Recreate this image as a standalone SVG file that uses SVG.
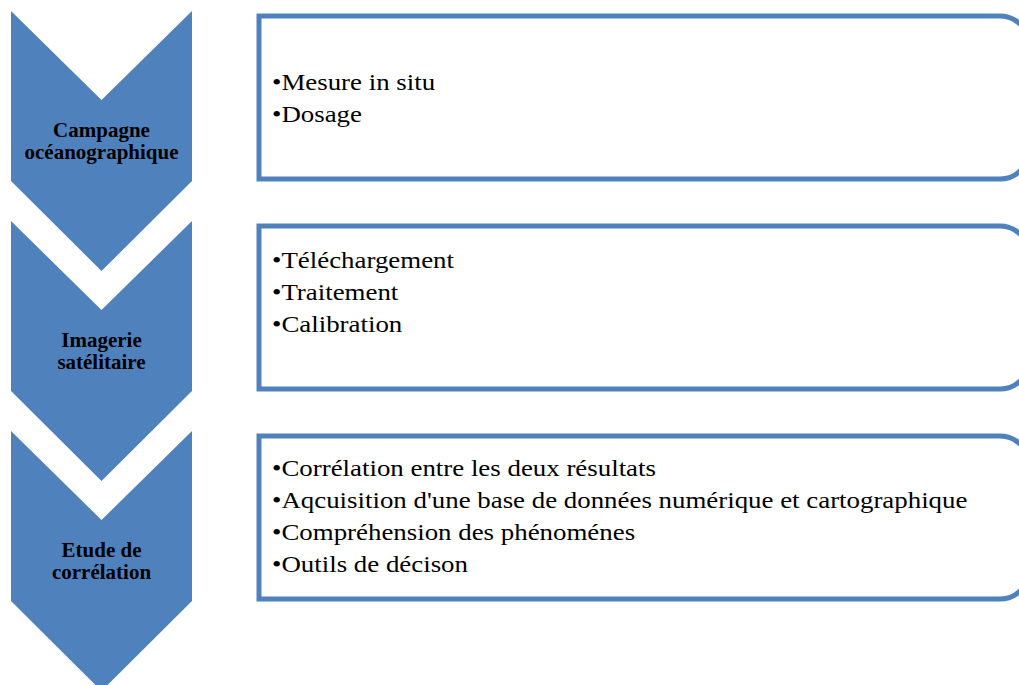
<svg xmlns="http://www.w3.org/2000/svg" width="1019" height="685" viewBox="0 0 1019 685">
<style>
.chev{fill:#4F81BD;stroke:none}
.box{fill:#FFFFFF;stroke:#4F81BD;stroke-width:5}
.lab{font-family:"Liberation Serif","Times New Roman",serif;font-weight:bold;font-size:21px;fill:#000;text-anchor:middle}
.item{font-family:"Liberation Serif","Times New Roman",serif;font-size:24px;fill:#000}
</style>
<rect width="1019" height="685" fill="#FFFFFF"/>
<g id="connectors"></g>
<g id="step1">
<path class="chev" d="M11,11 L101.5,100 L192,11 L192,181 L101.5,271 L11,181 Z"/>
<text class="lab" x="101.5" y="137">Campagne</text>
<text class="lab" x="101.5" y="159">océanographique</text>
</g>
<g id="step2">
<path class="chev" d="M11,221 L101.5,310 L192,221 L192,391 L101.5,481 L11,391 Z"/>
<text class="lab" x="101.5" y="347">Imagerie</text>
<text class="lab" x="101.5" y="369">satélitaire</text>
</g>
<g id="step3">
<path class="chev" d="M11,431 L101.5,520 L192,431 L192,601 L101.5,691 L11,601 Z"/>
<text class="lab" x="101.5" y="557">Etude de</text>
<text class="lab" x="101.5" y="579">corrélation</text>
</g>
<g id="box1">
<path class="box" d="M259,16 H1000 A29,29 0 0 1 1029,45 V150 A29,29 0 0 1 1000,179 H259 Z"/>
<g transform="translate(272,0) scale(1.12,1)">
<text class="item" x="0" y="90">•Mesure in situ</text>
<text class="item" x="0" y="122">•Dosage</text>
</g>
</g>
<g id="box2">
<path class="box" d="M259,226 H1000 A29,29 0 0 1 1029,255 V360 A29,29 0 0 1 1000,389 H259 Z"/>
<g transform="translate(272,0) scale(1.12,1)">
<text class="item" x="0" y="268">•Téléchargement</text>
<text class="item" x="0" y="300">•Traitement</text>
<text class="item" x="0" y="332">•Calibration</text>
</g>
</g>
<g id="box3">
<path class="box" d="M259,436 H1000 A29,29 0 0 1 1029,465 V570 A29,29 0 0 1 1000,599 H259 Z"/>
<g transform="translate(272,0) scale(1.12,1)">
<text class="item" x="0" y="476">•Corrélation entre les deux résultats</text>
<text class="item" x="0" y="508">•Aqcuisition d'une base de données numérique et cartographique</text>
<text class="item" x="0" y="540">•Compréhension des phénoménes</text>
<text class="item" x="0" y="572">•Outils de décison</text>
</g>
</g>
</svg>
